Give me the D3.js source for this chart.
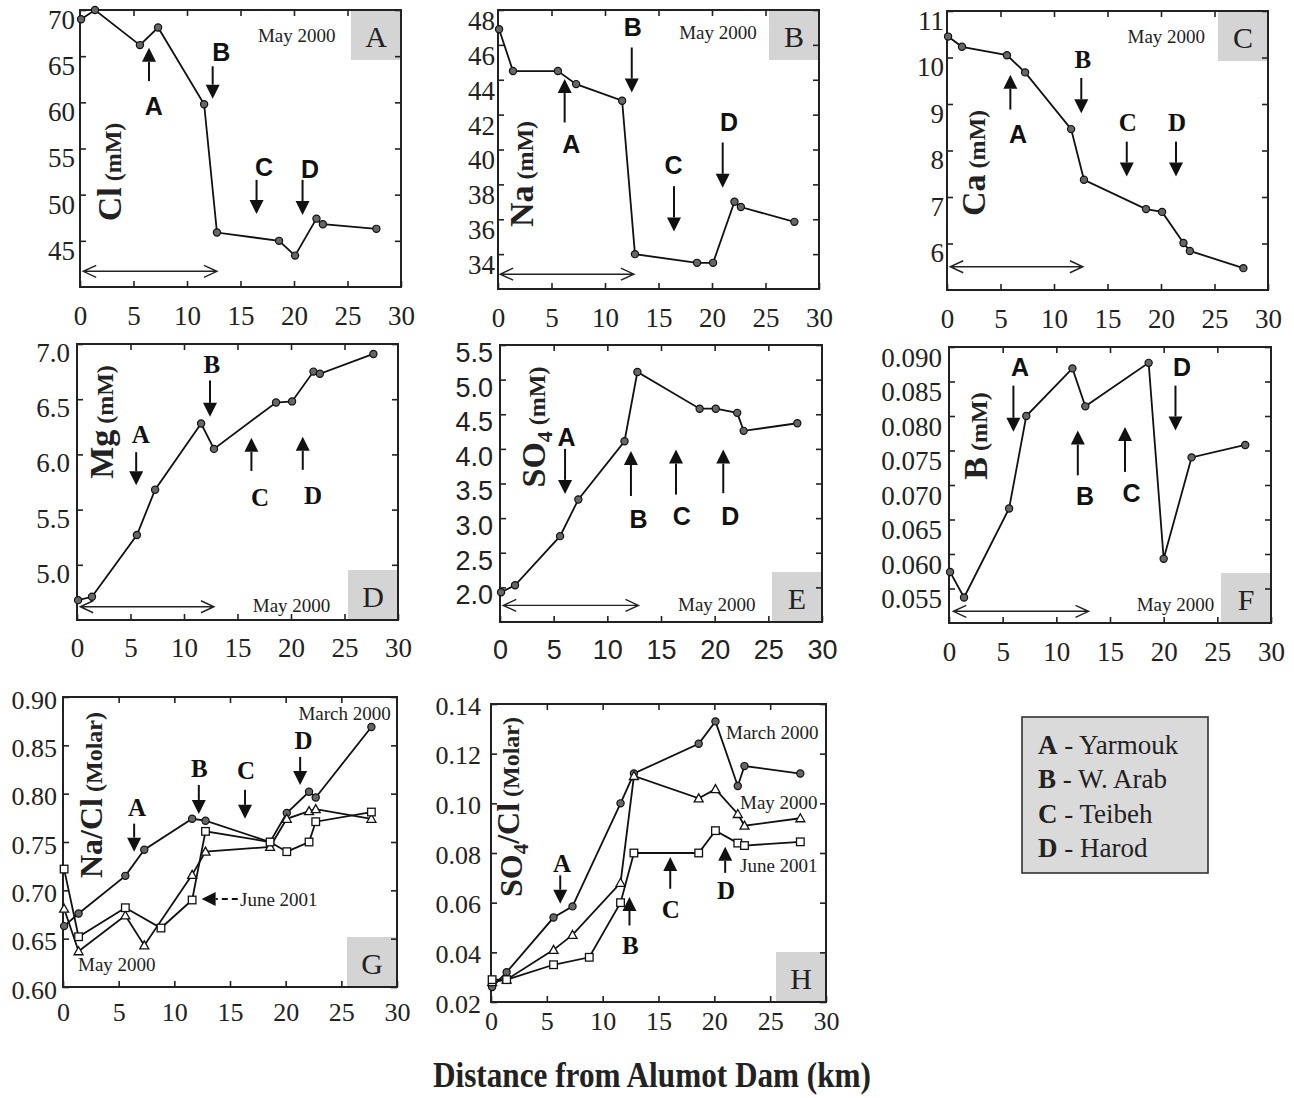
<!DOCTYPE html>
<html>
<head>
<meta charset="utf-8">
<script src="https://cdn.jsdelivr.net/npm/d3@7"></script>
<style>
  body { margin: 0; background: #fff; }
</style>
</head>
<body>
<svg id="fig" width="1294" height="1098"></svg>
<script>
const serif = "'Liberation Serif','Times New Roman',Times,serif";
const sans = "'Liberation Sans',Arial,Helvetica,sans-serif";

// distance from the dam (km) of the sampling sites
const xTicks = [0, 5, 10, 15, 20, 25, 30];
const km = [0.1, 1.4, 5.6, 7.3, 11.6, 12.8, 18.6, 20.1, 22.1, 22.7, 27.7];
const kmBoron = [0.1, 1.4, 5.6, 7.2, 11.5, 12.7, 18.6, 20.0, 22.6, 27.6];
const kmJune = [0.1, 1.4, 5.6, 8.8, 11.6, 12.8, 18.6, 20.1, 22.1, 22.7, 27.7];

// May 2000 concentrations (mM)
const clMay = [69.0, 70.0, 66.2, 68.1, 59.8, 45.9, 45.0, 43.4, 47.4, 46.8, 46.3];
const naMay = [46.9, 44.5, 44.5, 43.75, 42.8, 34.0, 33.5, 33.5, 37.0, 36.7, 35.85];
const caMay = [10.45, 10.23, 10.05, 9.68, 8.46, 7.37, 6.74, 6.68, 6.01, 5.84, 5.47];
const mgMay = [4.68, 4.71, 5.27, 5.68, 6.28, 6.05, 6.47, 6.48, 6.75, 6.73, 6.91];
const so4May = [1.93, 2.03, 2.74, 3.27, 4.11, 5.11, 4.58, 4.58, 4.52, 4.26, 4.37];
const bMay = [0.0574, 0.0537, 0.0666, 0.0800, 0.0869, 0.0814, 0.0877, 0.0593, 0.0740, 0.0758];

// molar ratios
const naClMarch = [0.663, 0.676, 0.715, 0.742, 0.774, 0.772, 0.750, 0.780, 0.802, 0.796, 0.869];
const naClMay = [0.681, 0.637, 0.674, 0.643, 0.716, 0.740, 0.745, 0.774, 0.782, 0.784, 0.774];
const naClJune = [0.722, 0.652, 0.682, 0.661, 0.690, 0.761, 0.750, 0.740, 0.750, 0.771, 0.781];
const so4ClMarch = [0.026, 0.032, 0.054, 0.0585, 0.100, 0.112, 0.124, 0.133, 0.107, 0.115, 0.112];
const so4ClMay = [0.028, 0.029, 0.041, 0.047, 0.068, 0.111, 0.102, 0.1057, 0.0957, 0.091, 0.094];
const so4ClJune = [0.029, 0.029, 0.035, 0.038, 0.060, 0.080, 0.080, 0.089, 0.084, 0.083, 0.0845];

// y tick values
const clTicks = [45, 50, 55, 60, 65, 70];
const naTicks = [34, 36, 38, 40, 42, 44, 46, 48];
const caTicks = [6, 7, 8, 9, 10, 11];
const mgTicks = [5.0, 5.5, 6.0, 6.5, 7.0];
const so4Ticks = [2.0, 2.5, 3.0, 3.5, 4.0, 4.5, 5.0, 5.5];
const bTicks = [0.055, 0.060, 0.065, 0.070, 0.075, 0.080, 0.085, 0.090];
const naClTicks = [0.60, 0.65, 0.70, 0.75, 0.80, 0.85, 0.90];
const so4ClTicks = [0.02, 0.04, 0.06, 0.08, 0.10, 0.12, 0.14];

const legendItems = [['A', ' - Yarmouk'], ['B', ' - W. Arab'], ['C', ' - Teibeh'], ['D', ' - Harod']];

const panels = [
  { id: 'A', box: [80, 10, 401, 287], dom: [40, 70], ticks: clTicks, fmt: 'd', font: serif, pad: 5, shift: 9, xOff: 29,
    series: [{ x: km, y: clMay, mark: 'circle' }],
    ylab: { x: 121, y: 172, parts: [['Cl', 34], [' (mM)', 24]] },
    letterFont: sans, corner: 'top', span: { y: 41.7, a: 0.3, b: 12.8 },
    arrows: [
      { t: 'A', x: 6.45, lx: 6.9, y0: 62.3, y1: 65.9, ly: 59.6 },
      { t: 'B', x: 12.4, lx: 13.2, y0: 63.9, y1: 60.4, ly: 65.4 },
      { t: 'C', x: 16.5, lx: 17.2, y0: 51.6, y1: 47.9, ly: 53.0 },
      { t: 'D', x: 20.8, lx: 21.5, y0: 51.6, y1: 47.8, ly: 52.8 }],
    notes: [{ t: 'May 2000', x: 20.25, y: 67.3, anchor: 'middle' }] },
  { id: 'B', box: [498, 10, 819, 289], dom: [32, 48], ticks: naTicks, fmt: 'd', font: serif, pad: 3, shift: 10, xOff: 29,
    series: [{ x: km, y: naMay, mark: 'circle' }],
    ylab: { x: 533, y: 174, parts: [['Na', 34], [' (mM)', 24]] },
    letterFont: sans, corner: 'top', span: { y: 32.85, a: 0.2, b: 12.7 },
    arrows: [
      { t: 'A', x: 6.23, lx: 6.85, y0: 41.55, y1: 44.04, ly: 40.3 },
      { t: 'B', x: 12.5, lx: 12.6, y0: 45.85, y1: 43.27, ly: 47.0 },
      { t: 'C', x: 16.45, lx: 16.4, y0: 37.9, y1: 35.3, ly: 39.07 },
      { t: 'D', x: 21.0, lx: 21.6, y0: 40.4, y1: 37.8, ly: 41.55 }],
    notes: [{ t: 'May 2000', x: 20.56, y: 46.7, anchor: 'middle' }] },
  { id: 'C', box: [947, 11, 1268, 290], dom: [5, 11], ticks: caTicks, fmt: 'd', font: serif, pad: 3, shift: 9, xOff: 29,
    series: [{ x: km, y: caMay, mark: 'circle' }],
    ylab: { x: 985, y: 163, parts: [['Ca', 34], [' (mM)', 24]] },
    letterFont: serif, corner: 'top', span: { y: 5.5, a: 0.3, b: 12.7 },
    arrows: [
      { t: 'A', x: 5.92, lx: 6.64, y0: 8.88, y1: 9.63, ly: 8.34, sans: true },
      { t: 'B', x: 12.55, lx: 12.7, y0: 9.56, y1: 8.8, ly: 9.96 },
      { t: 'C', x: 16.8, lx: 16.9, y0: 8.19, y1: 7.44, ly: 8.6 },
      { t: 'D', x: 21.4, lx: 21.5, y0: 8.19, y1: 7.44, ly: 8.6 }],
    notes: [{ t: 'May 2000', x: 20.5, y: 10.45, anchor: 'middle' }] },
  { id: 'D', box: [77, 344, 398, 620], dom: [4.5, 7.0], ticks: mgTicks, fmt: '.1f', font: serif, pad: 7, shift: 8, xOff: 28,
    series: [{ x: km, y: mgMay, mark: 'circle' }],
    ylab: { x: 113, y: 422, parts: [['Mg', 34], [' (mM)', 24]] },
    letterFont: serif, corner: 'bottom', span: { y: 4.62, a: 0.3, b: 12.8 },
    arrows: [
      { t: 'A', x: 5.53, lx: 5.97, y0: 6.02, y1: 5.72, ly: 6.18 },
      { t: 'B', x: 12.43, lx: 12.6, y0: 6.67, y1: 6.34, ly: 6.82 },
      { t: 'C', x: 16.3, lx: 17.1, y0: 5.85, y1: 6.15, ly: 5.61 },
      { t: 'D', x: 21.1, lx: 22.07, y0: 5.86, y1: 6.16, ly: 5.63 }],
    notes: [{ t: 'May 2000', x: 20.05, y: 4.63, anchor: 'middle' }] },
  { id: 'E', box: [500, 345, 822, 622], dom: [1.5, 5.5], ticks: so4Ticks, fmt: '.1f', font: sans, pad: 7, shift: 7, xOff: 28,
    series: [{ x: km, y: so4May, mark: 'circle' }],
    ylab: { x: 545, y: 427, parts: [['SO', 34], ['4', 22, 'sub'], [' (mM)', 24]] },
    letterFont: sans, corner: 'bottom', span: { y: 1.74, a: 0.3, b: 12.9 },
    arrows: [
      { t: 'A', x: 6.06, lx: 6.2, y0: 4.0, y1: 3.35, ly: 4.17 },
      { t: 'B', x: 12.2, lx: 12.9, y0: 3.32, y1: 3.97, ly: 2.98 },
      { t: 'C', x: 16.4, lx: 16.94, y0: 3.34, y1: 3.99, ly: 3.03 },
      { t: 'D', x: 20.8, lx: 21.45, y0: 3.36, y1: 3.99, ly: 3.03 }],
    notes: [{ t: 'May 2000', x: 20.2, y: 1.75, anchor: 'middle' }] },
  { id: 'F', box: [949, 347, 1271, 623], dom: [0.05, 0.09], ticks: bTicks, fmt: '.3f', font: serif, pad: 7, shift: 10, xOff: 29,
    series: [{ x: kmBoron, y: bMay, mark: 'circle' }],
    ylab: { x: 987, y: 436, parts: [['B', 34], [' (mM)', 24]] },
    letterFont: sans, corner: 'bottom', span: { y: 0.0517, a: 0.4, b: 13.0 },
    arrows: [
      { t: 'A', x: 6.0, lx: 6.62, y0: 0.0844, y1: 0.0777, ly: 0.0871 },
      { t: 'B', x: 12.0, lx: 12.68, y0: 0.0714, y1: 0.0779, ly: 0.0683 },
      { t: 'C', x: 16.4, lx: 17.0, y0: 0.0719, y1: 0.0784, ly: 0.0688 },
      { t: 'D', x: 21.1, lx: 21.7, y0: 0.0844, y1: 0.0779, ly: 0.0871 }],
    notes: [{ t: 'May 2000', x: 21.1, y: 0.0527, anchor: 'middle' }] },
  { id: 'G', box: [63, 697, 397, 987], dom: [0.6, 0.9], ticks: naClTicks, fmt: '.2f', font: serif, pad: 6, shift: 2, xOff: 25,
    series: [
      { x: km, y: naClMarch, mark: 'circle' },
      { x: km, y: naClMay, mark: 'triangle' },
      { x: kmJune, y: naClJune, mark: 'square' }],
    ylab: { x: 102, y: 795, parts: [['Na/Cl', 32], [' (Molar)', 24]] },
    letterFont: serif, corner: 'bottom', span: null,
    arrows: [
      { t: 'A', x: 6.39, lx: 6.66, y0: 0.769, y1: 0.740, ly: 0.786 },
      { t: 'B', x: 12.2, lx: 12.24, y0: 0.809, y1: 0.779, ly: 0.826 },
      { t: 'C', x: 16.35, lx: 16.44, y0: 0.804, y1: 0.774, ly: 0.824 },
      { t: 'D', x: 21.3, lx: 21.6, y0: 0.838, y1: 0.809, ly: 0.855 }],
    notes: [
      { t: 'March 2000', x: 21.15, y: 0.883, anchor: 'start' },
      { t: 'May 2000', x: 1.35, y: 0.623, anchor: 'start' },
      { t: 'June 2001', x: 15.9, y: 0.691, anchor: 'start', pointer: { tip: 12.45, end: 15.7 } }] },
  { id: 'H', box: [491, 704, 826, 1002], dom: [0.02, 0.14], ticks: so4ClTicks, fmt: '.2f', font: serif, pad: 10, shift: 1, xOff: 19,
    series: [
      { x: km, y: so4ClMarch, mark: 'circle' },
      { x: km, y: so4ClMay, mark: 'triangle' },
      { x: kmJune, y: so4ClJune, mark: 'square' }],
    ylab: { x: 522, y: 807, parts: [['SO', 32], ['4', 21, 'sub'], ['/Cl', 32], [' (Molar)', 24]] },
    letterFont: serif, corner: 'bottom', span: null,
    arrows: [
      { t: 'A', x: 6.2, lx: 6.35, y0: 0.071, y1: 0.0596, ly: 0.0757 },
      { t: 'B', x: 12.4, lx: 12.47, y0: 0.0508, y1: 0.0623, ly: 0.0427 },
      { t: 'C', x: 16.05, lx: 16.1, y0: 0.0656, y1: 0.0784, ly: 0.0575 },
      { t: 'D', x: 20.97, lx: 21.05, y0: 0.072, y1: 0.0825, ly: 0.065 }],
    notes: [
      { t: 'March 2000', x: 21.05, y: 0.1284, anchor: 'start' },
      { t: 'May 2000', x: 22.3, y: 0.1003, anchor: 'start' },
      { t: 'June 2001', x: 22.3, y: 0.075, anchor: 'start' }] }
];

const svg = d3.select('#fig');

// solid arrow: shaft plus filled triangular head at (x1,y1)
function arrow(g, x0, y0, x1, y1, head = 14, half = 7, dash = null) {
  const dx = x1 - x0, dy = y1 - y0, len = Math.hypot(dx, dy);
  const ux = dx / len, uy = dy / len;
  const bx = x1 - ux * head, by = y1 - uy * head;
  g.append('line')
    .attr('x1', x0).attr('y1', y0).attr('x2', bx).attr('y2', by)
    .attr('stroke', '#111').attr('stroke-width', 2)
    .attr('stroke-dasharray', dash);
  g.append('path')
    .attr('d', `M${x1},${y1}L${bx - uy * half},${by + ux * half}L${bx + uy * half},${by - ux * half}Z`)
    .attr('fill', '#111');
}

function drawPanel(p) {
  const [L, T, R, B] = p.box;
  const x = d3.scaleLinear().domain([0, 30]).range([L, R]);
  const y = d3.scaleLinear().domain(p.dom).range([B, T]);
  const g = svg.append('g');

  // grey tag with the panel letter
  const ty = p.corner === 'top' ? T : B - 50;
  g.append('rect').attr('x', R - 50).attr('y', ty).attr('width', 50).attr('height', 50).attr('fill', '#d4d4d4');
  g.append('text')
    .attr('x', R - 25).attr('y', ty + 26).attr('dy', '0.35em')
    .attr('text-anchor', 'middle')
    .style('font-family', serif).style('font-size', '30px').attr('fill', '#222')
    .text(p.id);

  // inward ticks on all four sides
  const tsize = p.id === 'G' || p.id === 'H' ? '26px' : '27px';
  const bottom = g.append('g').attr('transform', `translate(0,${B})`)
    .call(d3.axisBottom(x).tickValues(xTicks).tickSize(-6).tickFormat(d3.format('d')));
  bottom.selectAll('text').attr('y', p.xOff).attr('dy', '0.35em');
  const left = g.append('g').attr('transform', `translate(${L},0)`)
    .call(d3.axisLeft(y).tickValues(p.ticks).tickSize(-6).tickPadding(p.pad).tickFormat(d3.format(p.fmt)));
  left.selectAll('text').attr('dy', '0.35em').attr('transform', `translate(0,${p.shift})`);
  g.append('g').attr('transform', `translate(0,${T})`)
    .call(d3.axisTop(x).tickValues(xTicks.slice(1, -1)).tickSize(-6).tickFormat(''));
  g.append('g').attr('transform', `translate(${R},0)`)
    .call(d3.axisRight(y).tickValues(p.ticks).tickSize(-6).tickFormat(''));
  g.selectAll('.domain').remove();
  g.selectAll('.tick line').attr('stroke', '#222').attr('stroke-width', 1.6);
  g.selectAll('.tick text').style('font-family', p.font).style('font-size', tsize).attr('fill', '#222');

  g.append('rect')
    .attr('x', L).attr('y', T).attr('width', R - L).attr('height', B - T)
    .attr('fill', 'none').attr('stroke', '#222').attr('stroke-width', 2);

  // y axis title, written inside the frame
  const yl = g.append('text')
    .attr('transform', `translate(${p.ylab.x},${p.ylab.y}) rotate(-90)`)
    .attr('text-anchor', 'middle')
    .style('font-family', serif).style('font-weight', 'bold').attr('fill', '#222');
  p.ylab.parts.forEach(([t, s, kind], i, arr) => {
    const prevSub = i > 0 && arr[i - 1][2] === 'sub';
    const sp = yl.append('tspan').text(t).style('font-size', s + 'px');
    if (kind === 'sub') sp.attr('dy', '0.3em');
    else if (prevSub) sp.attr('dy', '-0.28em');
  });

  // horizontal double arrow along the bottom
  if (p.span) {
    const yy = y(p.span.y), xa = x(p.span.a), xb = x(p.span.b);
    g.append('path')
      .attr('d', `M${xa},${yy}H${xb}M${xa + 13},${yy - 6}L${xa},${yy}L${xa + 13},${yy + 6}M${xb - 13},${yy - 6}L${xb},${yy}L${xb - 13},${yy + 6}`)
      .attr('fill', 'none').attr('stroke', '#222').attr('stroke-width', 1.4);
  }

  // tributary inflow arrows
  p.arrows.forEach(a => {
    arrow(g, x(a.x), y(a.y0), x(a.x), y(a.y1));
    g.append('text')
      .attr('x', x(a.lx)).attr('y', y(a.ly)).attr('dy', '0.35em')
      .attr('text-anchor', 'middle')
      .style('font-family', a.sans ? sans : p.letterFont)
      .style('font-weight', 'bold').style('font-size', '25px').attr('fill', '#111')
      .text(a.t);
  });

  // data lines and markers
  const line = d3.line().x(d => x(d[0])).y(d => y(d[1]));
  p.series.forEach(s => {
    const pts = s.x.map((v, i) => [v, s.y[i]]);
    g.append('path').datum(pts).attr('d', line)
      .attr('fill', 'none').attr('stroke', '#111').attr('stroke-width', 1.8);
    const m = g.selectAll(null).data(pts).enter();
    if (s.mark === 'circle') {
      m.append('circle').attr('cx', d => x(d[0])).attr('cy', d => y(d[1])).attr('r', 3.6)
        .attr('fill', '#666').attr('stroke', '#111').attr('stroke-width', 1.2);
    } else if (s.mark === 'square') {
      m.append('rect').attr('x', d => x(d[0]) - 3.8).attr('y', d => y(d[1]) - 3.8)
        .attr('width', 7.6).attr('height', 7.6)
        .attr('fill', '#fff').attr('stroke', '#111').attr('stroke-width', 1.3);
    } else {
      m.append('path')
        .attr('d', d => `M${x(d[0])},${y(d[1]) - 4.5}L${x(d[0]) + 4.5},${y(d[1]) + 3.5}L${x(d[0]) - 4.5},${y(d[1]) + 3.5}Z`)
        .attr('fill', '#fff').attr('stroke', '#111').attr('stroke-width', 1.3);
    }
  });

  // date labels
  p.notes.forEach(n => {
    g.append('text')
      .attr('x', x(n.x)).attr('y', y(n.y)).attr('dy', '0.35em')
      .attr('text-anchor', n.anchor)
      .style('font-family', serif).style('font-size', '19px').attr('fill', '#222')
      .text(n.t);
    if (n.pointer) {
      arrow(g, x(n.pointer.end), y(n.y), x(n.pointer.tip), y(n.y), 14, 7, '6,4');
    }
  });
}

panels.forEach(drawPanel);

// legend
const lg = svg.append('g');
lg.append('rect').attr('x', 1022).attr('y', 717).attr('width', 186).attr('height', 156)
  .attr('fill', '#dadada').attr('stroke', '#333').attr('stroke-width', 1.6);
legendItems.forEach(([k, v], i) => {
  const t = lg.append('text').attr('x', 1038).attr('y', 754 + i * 34.3)
    .style('font-family', serif).style('font-size', '27px').attr('fill', '#222');
  t.append('tspan').text(k).style('font-weight', 'bold');
  t.append('tspan').text(v);
});

// shared x axis title
svg.append('text')
  .attr('x', 652).attr('y', 1087)
  .attr('text-anchor', 'middle')
  .attr('textLength', 438).attr('lengthAdjust', 'spacingAndGlyphs')
  .style('font-family', serif).style('font-weight', 'bold').style('font-size', '36px').attr('fill', '#222')
  .text('Distance from Alumot Dam (km)');
</script>
</body>
</html>
